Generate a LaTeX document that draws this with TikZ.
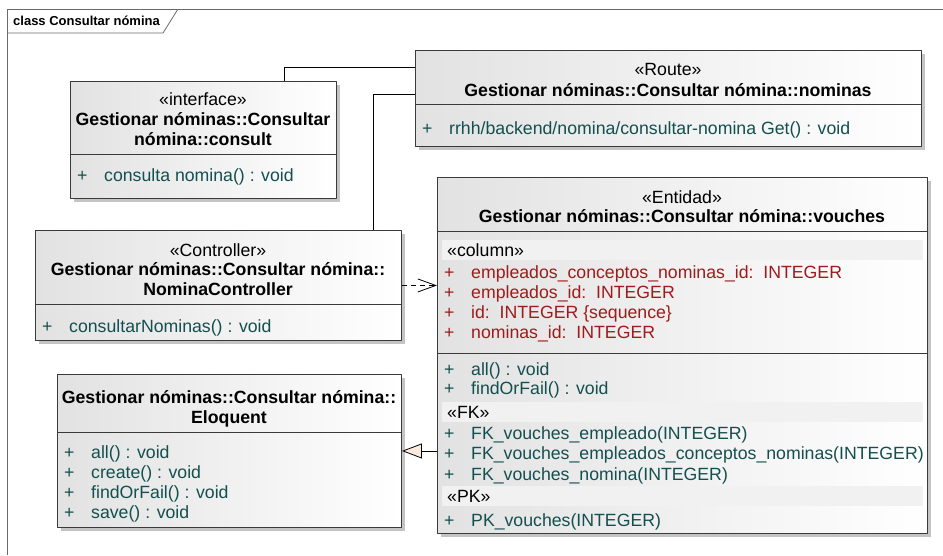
\documentclass[tikz,border=0pt]{standalone}
\usepackage{fontspec}
\setmainfont{Liberation Sans}
\usetikzlibrary{arrows.meta,calc,shadows}
\definecolor{boxline}{HTML}{3A3A3A}
\definecolor{boxshade}{HTML}{E2E2E2}
\definecolor{shadowgray}{HTML}{C4C4C4}
\definecolor{bandgray}{HTML}{F1F1F1}
\definecolor{opteal}{HTML}{144F4F}
\definecolor{attrred}{HTML}{9E1B1B}
\definecolor{framegray}{HTML}{6A6A6A}
\definecolor{gencream}{HTML}{FCEBDC}
\newcommand{\umlsize}{\fontsize{17.7}{20.3}\selectfont}

\begin{document}
\begin{tikzpicture}[
  x=1pt,
  y=-1pt,
  line join=round,
  classbox/.style={draw=boxline,line width=0.9pt,left color=boxshade,right color=white,
    anchor=north west,inner sep=0pt,
    drop shadow={shadow xshift=4pt,shadow yshift=-4pt,opacity=1,fill=shadowgray}},
  sepline/.style={draw=boxline,line width=0.9pt},
  band/.style={fill=bandgray},
  stereo/.style={font=\umlsize,anchor=base,inner sep=0pt},
  cname/.style={font=\umlsize\bfseries,anchor=base,inner sep=0pt},
  bandlabel/.style={font=\umlsize,anchor=base west,inner sep=0pt},
  opline/.style={font=\umlsize,text=opteal,anchor=base west,inner sep=0pt},
  attrline/.style={font=\umlsize,text=attrred,anchor=base west,inner sep=0pt},
  link/.style={draw=black,line width=0.8pt},
  depend/.style={draw=black,line width=0.8pt,dash pattern=on 5pt off 4pt,
    -{Straight Barb[length=18pt,width=13pt]}},
  inherit/.style={draw=black,line width=0.8pt,
    -{Triangle[length=20pt,width=15pt,fill=gencream]}}
]
  % Page size of the exported diagram.
  \useasboundingbox (0,0) rectangle (943,555);

  % Diagram frame and its name tab.
  \draw[framegray,line width=0.8pt] (7,555) -- (7,9) -- (943,9);
  \draw[framegray,line width=0.8pt] (7,33) -- (163,33) -- (178,9);
  \node[font=\fontsize{13}{15}\selectfont\bfseries,anchor=base west,inner sep=0pt]
    (frametitle) at (13,25) {class Consultar nómina};

  % Class boxes.
  \node[classbox,minimum width=266,minimum height=117] (consult) at (70,81) {};
  \node[classbox,minimum width=506,minimum height=96] (route) at (415,50) {};
  \node[classbox,minimum width=366,minimum height=110] (ctrl) at (35,230) {};
  \node[classbox,minimum width=490,minimum height=356] (vouches) at (437,177) {};
  \node[classbox,minimum width=344,minimum height=153] (eloq) at (57,374) {};

  % Compartment separators.
  \draw[sepline] ($(consult.north west)+(0,73)$) -- ($(consult.north east)+(0,73)$);
  \draw[sepline] ($(route.north west)+(0,54)$) -- ($(route.north east)+(0,54)$);
  \draw[sepline] ($(ctrl.north west)+(0,74)$) -- ($(ctrl.north east)+(0,74)$);
  \draw[sepline] ($(vouches.north west)+(0,54)$) -- ($(vouches.north east)+(0,54)$);
  \draw[sepline] ($(vouches.north west)+(0,176)$) -- ($(vouches.north east)+(0,176)$);
  \draw[sepline] ($(eloq.north west)+(0,58)$) -- ($(eloq.north east)+(0,58)$);

  % Stereotype bands inside vouches.
  \fill[band] (442,240) rectangle (923,260);
  \fill[band] (442,402) rectangle (923,422);
  \fill[band] (442,486) rectangle (923,506);

  % consult
  \node[stereo] (consultst) at (203,105) {«interface»};
  \node[cname] (consultnm1) at (203,125) {Gestionar nóminas::Consultar};
  \node[cname] (consultnm2) at (203,145) {nómina::consult};
  \node[opline] (consultop) at (77,181) {\makebox[27pt][l]{+}consulta nomina() : void};

  % route
  \node[stereo] (routest) at (668,75) {«Route»};
  \node[cname] (routenm) at (668,96) {Gestionar nóminas::Consultar nómina::nominas};
  \node[opline] (routeop) at (422,134)
    {\makebox[27pt][l]{+}rrhh/backend/nomina/consultar-nomina Get() : void};

  % ctrl
  \node[stereo] (ctrlst) at (218,256) {«Controller»};
  \node[cname] (ctrlnm1) at (218,275) {Gestionar nóminas::Consultar nómina::};
  \node[cname] (ctrlnm2) at (218,295) {NominaController};
  \node[opline] (ctrlop) at (42,332) {\makebox[27pt][l]{+}consultarNominas() : void};

  % vouches
  \node[stereo] (vouchesst) at (682,203) {«Entidad»};
  \node[cname] (vouchesnm) at (682,222) {Gestionar nóminas::Consultar nómina::vouches};
  \node[bandlabel] (colband) at (447,256) {«column»};
  \foreach \txt [count=\i] in {empleados\_conceptos\_nominas\_id:\ \ INTEGER,
      empleados\_id:\ \ INTEGER, id:\ \ INTEGER \{sequence\}, nominas\_id:\ \ INTEGER}
    \node[attrline] (vattr\i) at (444,{278+20.1*(\i-1)}) {\makebox[27pt][l]{+}\txt};
  \foreach \txt [count=\i] in {all() : void, findOrFail() : void}
    \node[opline] (vop\i) at (444,{375+19.5*(\i-1)}) {\makebox[27pt][l]{+}\txt};
  \node[bandlabel] (fkband) at (447,418) {«FK»};
  \foreach \txt [count=\i] in {FK\_vouches\_empleado(INTEGER),
      FK\_vouches\_empleados\_conceptos\_nominas(INTEGER), FK\_vouches\_nomina(INTEGER)}
    \node[opline] (vfk\i) at (444,{439+20.8*(\i-1)}) {\makebox[27pt][l]{+}\txt};
  \node[bandlabel] (pkband) at (447,502) {«PK»};
  \node[opline] (vpk) at (444,526) {\makebox[27pt][l]{+}PK\_vouches(INTEGER)};

  % eloq
  \node[cname] (eloqnm1) at (229,403) {Gestionar nóminas::Consultar nómina::};
  \node[cname] (eloqnm2) at (229,423) {Eloquent};
  \foreach \txt [count=\i] in {all() : void, create() : void, findOrFail() : void, save() : void}
    \node[opline] (eloqop\i) at (64,{458+20.3*(\i-1)}) {\makebox[27pt][l]{+}\txt};

  % Connectors.
  \draw[link] ($(consult.north west)+(214,0)$) |- ($(route.north west)+(0,17)$);
  \draw[link] ($(route.north west)+(0,44)$) -| ($(ctrl.north west)+(338,0)$);
  \draw[depend] (ctrl.east) -- (ctrl.east -| vouches.west);
  \draw[inherit] (vouches.west |- eloq.east) -- (eloq.east);
\end{tikzpicture}
\end{document}
